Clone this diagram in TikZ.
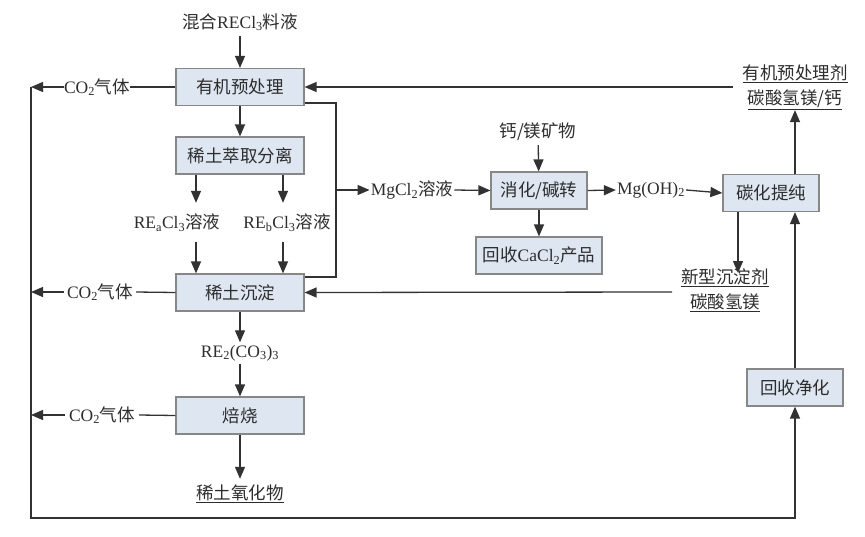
\documentclass[tikz,border=0pt]{standalone}
\usepackage{fontspec}
\setmainfont{Liberation Serif}
\newfontfamily\cjk{Noto Sans CJK SC}
\usetikzlibrary{arrows.meta}
\newcommand\zh[1]{{\cjk #1}}
\definecolor{boxfill}{RGB}{222,230,242}
\definecolor{boxline}{RGB}{135,135,135}
\definecolor{lineclr}{RGB}{50,50,50}
\definecolor{txt}{RGB}{45,45,45}
\begin{document}
\begin{tikzpicture}[x=1pt,y=1pt,
  every node/.style={font=\fontsize{17.5}{25}\selectfont, text=txt},
  procbox/.style={draw=boxline, fill=boxfill, line width=1.2pt, inner sep=0pt, minimum height=37pt},
  lbl/.style={inner sep=2pt},
  conn/.style={draw=lineclr, line width=1.3pt},
  arr/.style={conn, -{Triangle[length=12pt,width=10pt]}}]
\useasboundingbox (0,0) rectangle (865,-536);
\fill[white] (0,0) rectangle (865,-536);
% process boxes
\node[procbox, minimum width=128pt] (p1) at (240,-87) {\zh{有机预处理}};
\node[procbox, minimum width=128pt] (p2) at (240,-155.5) {\zh{稀土萃取分离}};
\node[procbox, minimum width=128pt] (p3) at (240,-292.5) {\zh{稀土沉淀}};
\node[procbox, minimum width=128pt] (p4) at (240,-415.5) {\zh{焙烧}};
\node[procbox, minimum width=96pt] (p5) at (539,-190.5) {\zh{消化/碱转}};
\node[procbox, minimum width=126pt] (p6) at (539,-255.5) {\zh{回收}CaCl\textsubscript{2}\zh{产品}};
\node[procbox, minimum width=96pt] (p7) at (771,-193) {\zh{碳化提纯}};
\node[procbox, minimum width=96pt] (p8) at (795,-387.5) {\zh{回收净化}};
% labels
\node[lbl, inner sep=0pt, minimum height=28pt] (t0) at (240,-22) {\zh{混合}RECl\textsubscript{3}\zh{料液}};
\node[lbl, inner sep=0pt] (co1) at (97,-87) {CO\textsubscript{2}\zh{气体}};
\node[lbl, inner sep=3pt] (co2) at (100,-292) {CO\textsubscript{2}\zh{气体}};
\node[lbl, inner sep=4pt] (co3) at (102,-415) {CO\textsubscript{2}\zh{气体}};
\node[lbl, inner sep=0pt, minimum height=39pt] (ra) at (177,-222.5) {RE\textsubscript{a}Cl\textsubscript{3}\zh{溶液}};
\node[lbl, inner sep=0pt, minimum height=39pt] (rb) at (287,-222.5) {RE\textsubscript{b}Cl\textsubscript{3}\zh{溶液}};
\node[lbl, inner sep=0pt, minimum height=21pt] (re) at (240,-353) {RE\textsubscript{2}(CO\textsubscript{3})\textsubscript{3}};
\node[lbl, inner sep=0pt, minimum height=30pt] (ox) at (240,-494) {\underline{\zh{稀土氧化物}}};
\node[lbl, inner sep=1pt] (mg) at (412,-190) {MgCl\textsubscript{2}\zh{溶液}};
\node[lbl, inner sep=0pt, minimum height=26pt] (ore) at (538,-132) {\zh{钙/镁矿物}};
\node[lbl, inner sep=1pt] (mgoh) at (651,-190) {Mg(OH)\textsubscript{2}};
\node[lbl, inner sep=0pt, align=center, minimum height=41pt] (ag1) at (795,-87.5) {\underline{\zh{有机预处理剂}}\\\underline{\zh{碳酸氢镁/钙}}};
\node[lbl, inner sep=0pt, align=center] (ag2) at (725,-290.5) {\underline{\zh{新型沉淀剂}}\\\underline{\zh{碳酸氢镁}}};
% helper coordinates
\coordinate (L1) at (31,-87);
\coordinate (L2) at (31,-292);
\coordinate (L3) at (31,-415);
\coordinate (BL) at (31,-518);
\coordinate (ax) at (196,0);
\coordinate (bx) at (283,0);
\coordinate (R1) at (336,-103);
\coordinate (R2) at (336,-277);
\coordinate (R3) at (336,-190);
\coordinate (F1) at (733,-87);
\coordinate (F2) at (672,-292);
\coordinate (dx) at (738,-273);
% connectors
\draw[arr] (t0) -- (p1);
\draw[arr] (p1) -- (p2);
\draw[arr] (ax |- p2.south) -- (ax |- ra.north);
\draw[arr] (bx |- p2.south) -- (bx |- rb.north);
\draw[arr] (ax |- ra.south) -- (ax |- p3.north);
\draw[arr] (bx |- rb.south) -- (bx |- p3.north);
\draw[arr] (p3) -- (re);
\draw[arr] (re) -- (p4);
\draw[arr] (p4) -- (ox);
\draw[conn] (p1.west) -- (co1.east);
\draw[arr] (co1.west) -- (L1);
\draw[conn] (p3.west) -- (co2.east);
\draw[arr] (co2.west) -- (L2);
\draw[conn] (p4.west) -- (co3.east);
\draw[arr] (co3.west) -- (L3);
\draw[arr] (L1) -- (BL) -| (p8.south);
\draw[conn] (p1.east |- R1) -- (R1) -- (R2) -- (p3.east |- R2);
\draw[arr] (R3) -- (mg.west);
\draw[arr] (mg.east) -- (p5.west);
\draw[arr] (ore) -- (p5);
\draw[arr] (p5) -- (p6);
\draw[arr] (p5.east) -- (mgoh.west);
\draw[arr] (mgoh.east) -- (p7.west);
\draw[arr] (F1) -- (p1.east);
\draw[arr] (F2) -- (p3.east);
\draw[arr] (ag1.south |- p7.north) -- (ag1.south);
\draw[arr] (dx |- p7.south) -- (dx);
\draw[arr] (p8.north) -- (p8.north |- p7.south);
\end{tikzpicture}
\end{document}
